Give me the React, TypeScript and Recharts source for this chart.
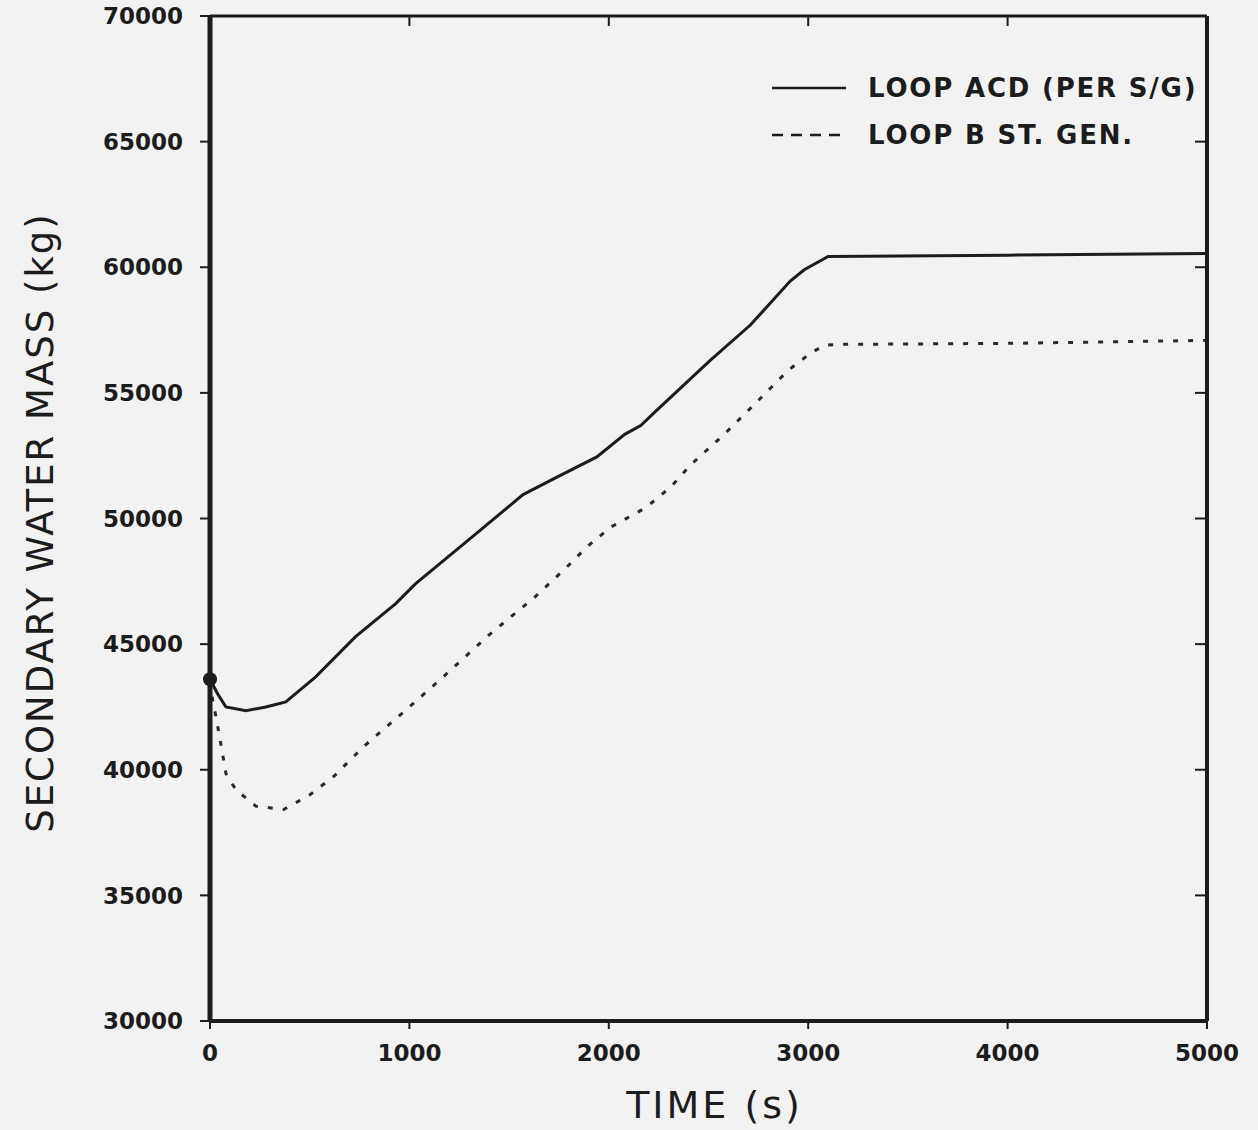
import { Label, Legend, Line, LineChart, XAxis, YAxis } from 'recharts';

// Loop A/C/D steam generator (per S/G)
const loopAcdTime = [0, 40, 80, 180, 280, 380, 530, 730, 930, 1030, 1350, 1570, 1740, 1940, 2080, 2160, 2240, 2510, 2710, 2910, 2980, 3100, 4000, 5000];
const loopAcdMass = [43600, 43000, 42500, 42350, 42500, 42700, 43700, 45300, 46600, 47400, 49500, 50950, 51650, 52450, 53350, 53700, 54300, 56300, 57700, 59450, 59900, 60430, 60480, 60550];

// Loop B steam generator
const loopBTime = [0, 15, 30, 45, 80, 130, 230, 370, 500, 620, 770, 1000, 1170, 1400, 1630, 1790, 1890, 2010, 2130, 2190, 2310, 2410, 2580, 2750, 2900, 3010, 3080, 3150, 4000, 5000];
const loopBMass = [43500, 42700, 42100, 41450, 39850, 39200, 38550, 38420, 39000, 39730, 40920, 42500, 43700, 45370, 46880, 48070, 48870, 49660, 50180, 50460, 51250, 52130, 53360, 54700, 55900, 56570, 56890, 56930, 56970, 57090];

const xTicks = [0, 1000, 2000, 3000, 4000, 5000];
const yTicks = [30000, 35000, 40000, 45000, 50000, 55000, 60000, 65000, 70000];

const legendLabels = ['LOOP ACD (PER S/G)', 'LOOP B ST. GEN.'];

const loopAcdData = loopAcdTime.map((t, i) => ({ t, mass: loopAcdMass[i] }));
const loopBData = loopBTime.map((t, i) => ({ t, mass: loopBMass[i] }));

const INK = '#1c1c1c';
const FONT = '"DejaVu Sans", sans-serif';

const tickStyle = { fill: INK, fontFamily: FONT, fontWeight: 700, fontSize: 23 };
const noLabel = (p: any) => <g key={`n${p.index}`} />;

function LegendBox() {
  const rows = [
    { label: legendLabels[0], dash: undefined },
    { label: legendLabels[1], dash: '11 8' },
  ];
  return (
    <div style={{ fontFamily: FONT }}>
      {rows.map((r) => (
        <div key={r.label} style={{ display: 'flex', alignItems: 'center', height: 47 }}>
          <svg width={96} height={10} style={{ marginRight: 6 }}>
            <line x1={6} y1={5} x2={80} y2={5} stroke={INK} strokeWidth={2.5} strokeDasharray={r.dash} />
          </svg>
          <span style={{ color: INK, fontSize: 26, fontWeight: 700, letterSpacing: 1.8, whiteSpace: 'nowrap' }}>
            {r.label}
          </span>
        </div>
      ))}
    </div>
  );
}

export default function App() {
  return (
    <div style={{ position: 'absolute', left: 0, top: 0, width: 1258, height: 1130, background: '#f2f2f2' }}>
      <LineChart width={1258} height={1130} margin={{ top: 15, right: 50, bottom: 0, left: 0 }}>
        <XAxis
          xAxisId="b"
          type="number"
          dataKey="t"
          domain={[0, 5000]}
          ticks={xTicks}
          height={109}
          tickSize={8}
          tickMargin={16}
          tick={tickStyle}
          axisLine={{ stroke: INK, strokeWidth: 4 }}
          tickLine={{ stroke: INK, strokeWidth: 2 }}
        >
          <Label
            position="insideBottom"
            offset={10}
            content={({ viewBox }: any) => (
              <text
                x={viewBox.x + viewBox.width / 2 + 6}
                y={viewBox.y + viewBox.height - 12}
                textAnchor="middle"
                fill={INK}
                fontFamily={FONT}
                fontSize={38}
                letterSpacing={3}
              >
                TIME (s)
              </text>
            )}
          />
        </XAxis>
        <XAxis
          xAxisId="t"
          orientation="top"
          type="number"
          dataKey="t"
          domain={[0, 5000]}
          ticks={xTicks}
          height={1}
          interval={0}
          tick={noLabel}
          tickSize={-10}
          axisLine={{ stroke: INK, strokeWidth: 3 }}
          tickLine={{ stroke: INK, strokeWidth: 2 }}
        />
        <YAxis
          yAxisId="l"
          type="number"
          domain={[30000, 70000]}
          ticks={yTicks}
          width={210}
          tickSize={10}
          tickMargin={17}
          tick={tickStyle}
          axisLine={{ stroke: INK, strokeWidth: 5 }}
          tickLine={{ stroke: INK, strokeWidth: 2 }}
        >
          <Label
            position="insideLeft"
            content={({ viewBox }: any) => {
              const cx = 40;
              const cy = viewBox.y + viewBox.height / 2 + 4;
              return (
                <text
                  x={cx}
                  y={cy}
                  transform={`rotate(-90 ${cx} ${cy})`}
                  textAnchor="middle"
                  dominantBaseline="central"
                  fill={INK}
                  fontFamily={FONT}
                  fontSize={37}
                  letterSpacing={2}
                >
                  SECONDARY WATER MASS (kg)
                </text>
              );
            }}
          />
        </YAxis>
        <YAxis
          yAxisId="r"
          orientation="right"
          type="number"
          domain={[30000, 70000]}
          ticks={yTicks}
          width={1}
          interval={0}
          tick={noLabel}
          tickSize={-12}
          axisLine={{ stroke: INK, strokeWidth: 4 }}
          tickLine={{ stroke: INK, strokeWidth: 2 }}
        />
        <Legend
          layout="vertical"
          align="center"
          verticalAlign="middle"
          content={() => <LegendBox />}
          wrapperStyle={{ top: 64, left: 766, width: 480, height: 'auto' }}
        />
        <Line
          xAxisId="b"
          yAxisId="l"
          data={loopAcdData}
          dataKey="mass"
          type="linear"
          stroke={INK}
          strokeWidth={3}
          dot={(p: any) =>
            p.index === 0 ? (
              <circle key="start" cx={p.cx} cy={p.cy} r={7} fill={INK} />
            ) : (
              <g key={`d${p.index}`} />
            )
          }
          activeDot={false}
          isAnimationActive={false}
        />
        <Line
          xAxisId="t"
          yAxisId="r"
          data={loopBData}
          dataKey="mass"
          type="linear"
          stroke="#2a2a2a"
          strokeWidth={3}
          strokeDasharray="5 10"
          dot={false}
          activeDot={false}
          isAnimationActive={false}
        />
      </LineChart>
    </div>
  );
}
